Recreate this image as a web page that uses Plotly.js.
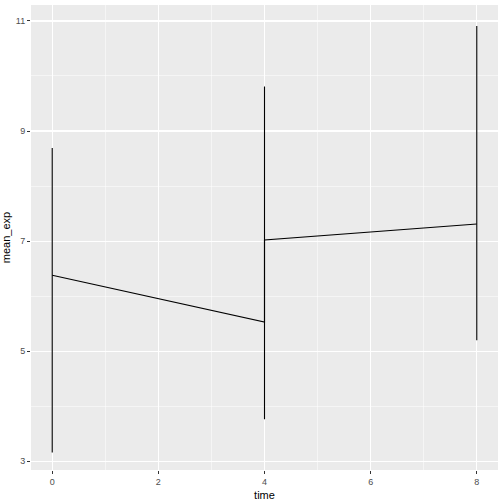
<!DOCTYPE html>
<html>
<head>
<meta charset="utf-8">
<script src="https://cdn.plot.ly/plotly-3.0.1.min.js"></script>
<style>
  html, body { margin: 0; padding: 0; background: white; }
  #chart { width: 504px; height: 504px; }
</style>
</head>
<body>
<div id="chart"></div>
<script>
// mean line (time 4 appears twice: two groups joined by one line)
const lineTime = [0, 4, 4, 8];
const lineMean = [6.38, 5.53, 7.02, 7.31];

// vertical ranges
const rangeTime = [0, 4, 8];
const rangeLow = [3.16, 3.76, 5.2];
const rangeHigh = [8.69, 9.81, 10.91];

const xTicks = [0, 2, 4, 6, 8];
const yTicks = [3, 5, 7, 9, 11];

// build range segments from the arrays
const segX = [], segY = [];
rangeTime.forEach( ( t, i ) => {
    segX.push( t, t, null );
    segY.push( rangeLow[ i ], rangeHigh[ i ], null );
} );

const data = [
    {
        type: 'scatter',
        mode: 'lines',
        x: segX,
        y: segY,
        line: { color: 'black', width: 1.1 },
        hoverinfo: 'skip',
        showlegend: false
    },
    {
        type: 'scatter',
        mode: 'lines',
        x: lineTime,
        y: lineMean,
        line: { color: 'black', width: 1.1 },
        showlegend: false
    }
];

const axisCommon = {
    showline: false,
    zeroline: false,
    showgrid: true,
    gridcolor: 'white',
    gridwidth: 1.1,
    ticks: 'outside',
    ticklen: 3,
    tickwidth: 1,
    tickcolor: '#333333',
    tickfont: { family: 'Liberation Sans, Arial, sans-serif', size: 9, color: '#4D4D4D' },
    minor: { showgrid: true, gridcolor: 'white', gridwidth: 0.5, ticks: '' }
};

const layout = {
    width: 504,
    height: 504,
    margin: { l: 31, r: 6, t: 5, b: 34 },
    paper_bgcolor: 'white',
    plot_bgcolor: '#EBEBEB',
    showlegend: false,
    xaxis: Object.assign( {}, axisCommon, {
        range: [ -0.4, 8.4 ],
        tickvals: xTicks,
        ticktext: xTicks.map( String ),
        minor: Object.assign( {}, axisCommon.minor, { tickvals: [ 1, 3, 5, 7 ] } ),
        title: {
            text: 'time',
            standoff: 5,
            font: { family: 'Liberation Sans, Arial, sans-serif', size: 11, color: 'black' }
        }
    } ),
    yaxis: Object.assign( {}, axisCommon, {
        range: [ 2.84, 11.29 ],
        tickvals: yTicks,
        ticktext: yTicks.map( String ),
        minor: Object.assign( {}, axisCommon.minor, { tickvals: [ 4, 6, 8, 10 ] } ),
        title: {
            text: 'mean_exp',
            standoff: 6,
            font: { family: 'Liberation Sans, Arial, sans-serif', size: 11, color: 'black' }
        }
    } )
};

Plotly.newPlot( 'chart', data, layout, { displayModeBar: false, staticPlot: true } );
</script>
</body>
</html>
